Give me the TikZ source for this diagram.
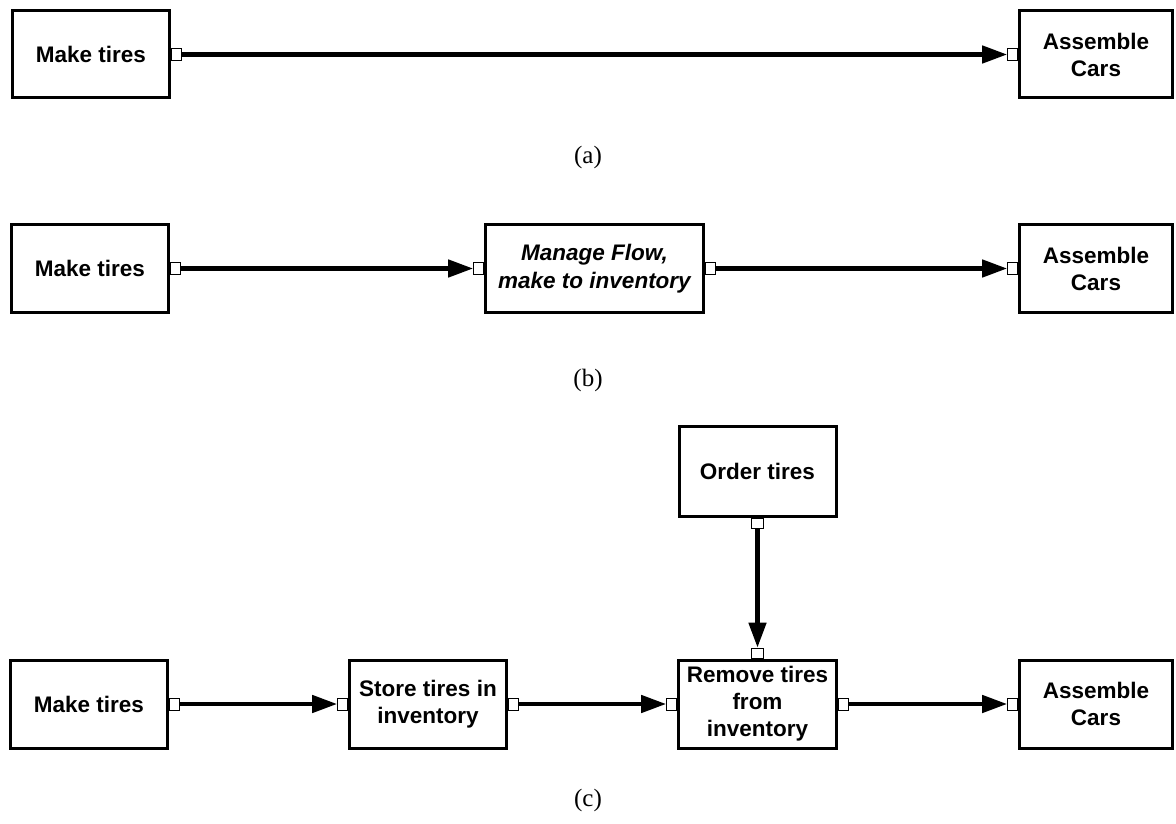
\documentclass[tikz,border=0pt]{standalone}
\usepackage{fontspec}
\setmainfont{Liberation Serif}
\setsansfont{Liberation Sans}
\usetikzlibrary{arrows.meta}

\begin{document}
\begin{tikzpicture}[x=1pt,y=-1pt,
  box/.style={draw,line width=3pt,inner sep=0pt,align=center,
    minimum width=157pt,minimum height=88pt,
    font=\sffamily\bfseries\fontsize{22.5}{27}\selectfont},
  slanted/.style={font=\sffamily\bfseries\itshape\fontsize{22.5}{28}\selectfont},
  port/.style={draw,line width=0.8pt,fill=white,inner sep=0pt,
    minimum width=10pt,minimum height=12pt},
  flow/.style={line width=4.5pt,-{Triangle[length=25pt,width=17pt]}},
  caption/.style={font=\fontsize{25}{30}\selectfont}]
  \useasboundingbox (0,0) rectangle (1176,824);

  % Row (a)
  \node[box,minimum height=87pt] (mka) at (91,54.5) {Make tires};
  \node[box,minimum width=153pt,minimum height=87pt] (asa) at (1096,54.5) {Assemble\\Cars};
  \node[port,anchor=west] (mka-o) at (mka.east) {};
  \node[port,anchor=east] (asa-i) at (asa.west) {};
  \draw[flow] (mka-o) -- (asa-i);
  \node[caption] (capa) at (588,157) {(a)};

  % Row (b)
  \node[box] (mkb) at (90,268.5) {Make tires};
  \node[box,slanted,minimum width=218pt] (mgb) at (594.5,268.5) {Manage Flow,\\make to inventory};
  \node[box,minimum width=153pt] (asb) at (1096,268.5) {Assemble\\Cars};
  \node[port,anchor=west] (mkb-o) at (mkb.east) {};
  \node[port,anchor=east] (mgb-i) at (mgb.west) {};
  \node[port,anchor=west] (mgb-o) at (mgb.east) {};
  \node[port,anchor=east] (asb-i) at (asb.west) {};
  \draw[flow] (mkb-o) -- (mgb-i);
  \draw[flow] (mgb-o) -- (asb-i);
  \node[caption] (capb) at (588,380) {(b)};

  % Row (c)
  \node[box,minimum height=90pt] (ord) at (757.5,471.5) {Order tires};
  \node[box] (mkc) at (89,704) {Make tires};
  \node[box] (stc) at (428,704) {Store tires in\\inventory};
  \node[box,minimum width=158pt] (rmc) at (757.5,704) {Remove tires\\from\\inventory};
  \node[box,minimum width=153pt] (asc) at (1096,704) {Assemble\\Cars};
  \node[port,anchor=north,minimum width=12pt,minimum height=10pt] (ord-o) at (ord.south) {};
  \node[port,anchor=south,minimum width=12pt,minimum height=10pt] (rmc-t) at (rmc.north) {};
  \node[port,anchor=west] (mkc-o) at (mkc.east) {};
  \node[port,anchor=east] (stc-i) at (stc.west) {};
  \node[port,anchor=west] (stc-o) at (stc.east) {};
  \node[port,anchor=east] (rmc-i) at (rmc.west) {};
  \node[port,anchor=west] (rmc-o) at (rmc.east) {};
  \node[port,anchor=east] (asc-i) at (asc.west) {};
  \draw[flow] (ord-o) -- (rmc-t);
  \draw[flow] (mkc-o) -- (stc-i);
  \draw[flow] (stc-o) -- (rmc-i);
  \draw[flow] (rmc-o) -- (asc-i);
  \node[caption] (capc) at (588,800) {(c)};

\end{tikzpicture}
\end{document}
